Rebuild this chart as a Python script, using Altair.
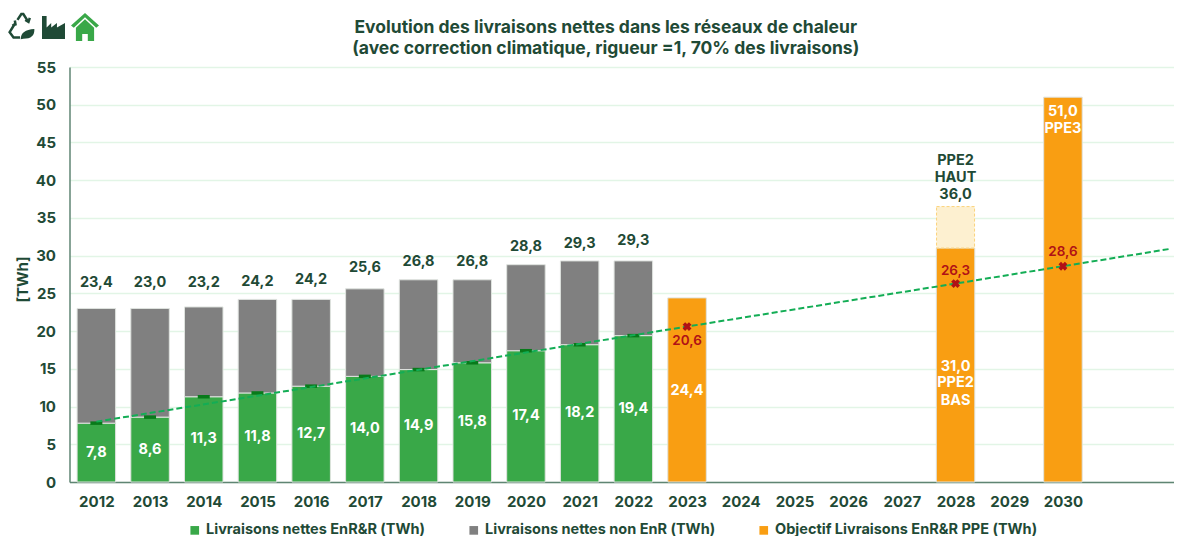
import altair as alt
import pandas as pd

hist_years = list(range(2012, 2023))
enr = [7.8, 8.6, 11.3, 11.8, 12.7, 14.0, 14.9, 15.8, 17.4, 18.2, 19.4]
total_bar = [23.0, 23.0, 23.2, 24.2, 24.2, 25.6, 26.8, 26.8, 28.8, 29.3, 29.3]
total_lab = ["23,4", "23,0", "23,2", "24,2", "24,2", "25,6", "26,8", "26,8", "28,8", "29,3", "29,3"]
total_anchor = [26.4, 26.4, 26.4, 26.5, 26.8, 28.4, 29.2, 29.2, 31.1, 31.6, 31.9]
obj_years = [2023, 2028, 2030]
obj = [24.4, 31.0, 51.0]
haut_low, haut_high = 31.0, 36.5
traj_years = [2012, 2023, 2028, 2030, 2032]
traj = [8.0, 20.6, 26.3, 28.6, 30.9]
cross_years = [2023, 2028, 2030]
cross = [20.6, 26.3, 28.6]
cross_lab = ["20,6", "26,3", "28,6"]
cross_anchor = [18.7, 27.9, 30.5]
obj_text_years = [2023, 2028, 2028, 2028, 2030, 2030]
obj_text = ["24,4", "31,0", "PPE2", "BAS", "51,0", "PPE3"]
obj_text_y = [12.0, 15.3, 13.1, 10.8, 49.0, 46.8]
haut_text = ["PPE2", "HAUT", "36,0"]
haut_y = [42.5, 40.3, 38.0]
S_GREEN = "Livraisons nettes EnR&R (TWh)"
S_GREY = "Livraisons nettes non EnR (TWh)"
S_ORANGE = "Objectif Livraisons EnR&R PPE (TWh)"

FONT = "Inter"
DARK = "#1f4a36"
GREEN = "#39a848"
GREY = "#808080"
ORANGE = "#f99e12"

x = alt.X("year:Q", scale=alt.Scale(domain=[2011.5, 2032.068], nice=False, zero=False, padding=0),
          axis=alt.Axis(title=None, values=list(range(2012, 2031)), format="d", ticks=False, labelPadding=12,
                        labelFontSize=15, labelFont=FONT, labelFontWeight=700, labelColor=DARK,
                        domainColor="#5f8573", domainWidth=1.5, grid=False, labelOverlap=False, labelFlush=False))
def yenc(f):
    return alt.Y(f, scale=alt.Scale(domain=[0, 55], nice=False, padding=0), axis=alt.Axis(
        title="[TWh]", values=list(range(0, 60, 5)), ticks=False, labelPadding=14, labelFontSize=15,
        labelFont=FONT, labelFontWeight=700, labelColor=DARK, gridColor="#e2f5e6", gridWidth=1.5,
        domainColor="#5f8573", domainWidth=1.5, titleFont=FONT, titleFontSize=15,
        titleFontWeight=700, titleColor=DARK, titlePadding=5, titleY=212, labelOverlap=False))
y = yenc("v:Q")
color = alt.Color("s:N", scale=alt.Scale(domain=[S_GREEN, S_GREY, S_ORANGE], range=[GREEN, GREY, ORANGE]),
                  legend=alt.Legend(title=None, orient="none", legendX=118, legendY=456, direction="horizontal",
                                    columns=3, columnPadding=41, symbolType="square", symbolSize=75, symbolStrokeWidth=0,
                                    labelFont=FONT, labelFontSize=14.5, labelFontWeight=700, labelColor=DARK,
                                    labelOffset=4, labelLimit=400))

green_df = pd.DataFrame({"year": hist_years, "v0": [0] * 11, "v": enr, "mid": [e / 2 for e in enr],
                         "s": S_GREEN, "lab": [f"{e:.1f}".replace(".", ",") for e in enr]})
grey_df = pd.DataFrame({"year": hist_years, "v0": enr, "v": total_bar, "s": S_GREY, "lab": total_lab, "a": total_anchor})
obj_df = pd.DataFrame({"year": obj_years, "v0": [0, 0, 0], "v": obj, "s": S_ORANGE})
haut_df = pd.DataFrame({"year": [2028], "v0": [haut_low], "v": [haut_high]})
traj_df = pd.DataFrame({"year": traj_years, "v": traj})
cross_df = pd.DataFrame({"year": cross_years, "v": cross, "lab": cross_lab, "a": cross_anchor})
obj_t = pd.DataFrame({"year": obj_text_years, "v": obj_text_y, "lab": obj_text})
haut_t = pd.DataFrame({"year": [2028] * 3, "v": haut_y, "lab": haut_text})

BAR = dict(size=38.5, stroke="#dfe3df", strokeWidth=1)
bars = alt.Chart(pd.concat([green_df, grey_df, obj_df])).mark_bar(**BAR).encode(
    x=x, y=y, y2="v0:Q", color=color)
haut = alt.Chart(haut_df).mark_bar(size=38, color="#fdf0d0", stroke="#fbd27a", strokeWidth=1, strokeDash=[3, 2]).encode(
    x=x, y=y, y2="v0:Q")
ticks = alt.Chart(green_df).mark_tick(orient="horizontal", size=12, thickness=3.5, color="#087a1a", opacity=1).encode(x=x, y=y)
line = alt.Chart(traj_df).mark_line(color="#13ad55", strokeWidth=2, strokeDash=[6, 3]).encode(x=x, y=y)
crosses = alt.Chart(cross_df).mark_point(shape="cross", size=80, angle=45, filled=True, color="#b01116", opacity=1).encode(x=x, y=y)
TXT = dict(font=FONT, fontWeight=700, fontSize=14.5)
t_green = alt.Chart(green_df).mark_text(color="white", **TXT).encode(x=x, y=yenc("mid:Q"), text="lab:N")
t_total = alt.Chart(grey_df).mark_text(color=DARK, **TXT).encode(x=x, y=yenc("a:Q"), text="lab:N")
t_cross = alt.Chart(cross_df).mark_text(color="#b01116", font=FONT, fontWeight=600, fontSize=13.5).encode(
    x=x, y=yenc("a:Q"), text="lab:N")
t_obj = alt.Chart(obj_t).mark_text(color="white", **TXT).encode(x=x, y=y, text="lab:N")
t_haut = alt.Chart(haut_t).mark_text(color=DARK, **TXT).encode(x=x, y=y, text="lab:N")

# Icons drawn above the plot area
def icon(path, px, py, col, sz, filled=True, sw=0):
    return alt.Chart(pd.DataFrame({"a": [0]})).mark_point(shape=path, filled=filled, size=sz, color=col,
                                                          strokeWidth=sw, opacity=1).encode(
        x=alt.value(px), y=alt.value(py))
REC = ("M-0.35,-0.55 L-0.05,-1 L0.1,-1 L0.45,-0.45 M0.25,-0.55 L0.5,-0.4 L0.6,-0.7 "
       "M-0.55,-0.25 L-0.95,0.4 L-0.65,0.8 L-0.15,0.8 M-0.75,-0.1 L-0.5,-0.2 L-0.55,-0.5")
LEAF = "M-0.1,0.95 Q-0.1,0.2 0.95,0.15 Q1,0.9 0.1,0.9 Z"
FACT = "M-1,1 L-1,-1 L-0.6,-1 L-0.6,0 L-0.2,-0.4 L-0.2,0 L0.3,-0.4 L0.3,0 L1,-0.4 L1,1 Z"
HOUSE = ("M0,-1 L1,-0.1 L0.8,0.05 L0,-0.7 L-0.8,0.05 L-1,-0.1 Z "
         "M-0.65,0.05 L0,-0.55 L0.65,0.05 L0.65,1 L0.2,1 L0.2,0.5 L-0.2,0.5 L-0.2,1 L-0.65,1 Z")
ic = [icon(REC, -47.5, -40, DARK, 676, filled=False, sw=2.5), icon(LEAF, -47.5, -40, DARK, 676),
      icon(FACT, -16, -39.5, DARK, 529), icon(HOUSE, 15.5, -40, GREEN, 784)]

chart = alt.layer(bars, haut, ticks, line, crosses, t_green, t_total, t_cross, t_obj, t_haut, *ic).properties(
    width=1104.5, height=415,
    padding={"left": 61.5, "top": 59, "right": 0, "bottom": 54},
    autosize=alt.AutoSizeParams(type="none"),
    title=alt.TitleParams(["Evolution des livraisons nettes dans les réseaux de chaleur",
                           "(avec correction climatique, rigueur =1, 70% des livraisons)"],
                          font=FONT, fontSize=17.5, fontWeight=700, color=DARK, anchor="middle",
                          dx=-16, dy=54, offset=6, lineHeight=21),
).configure_view(stroke=None)

chart.save("out.html", embed_options={"renderer": "svg", "actions": False})
